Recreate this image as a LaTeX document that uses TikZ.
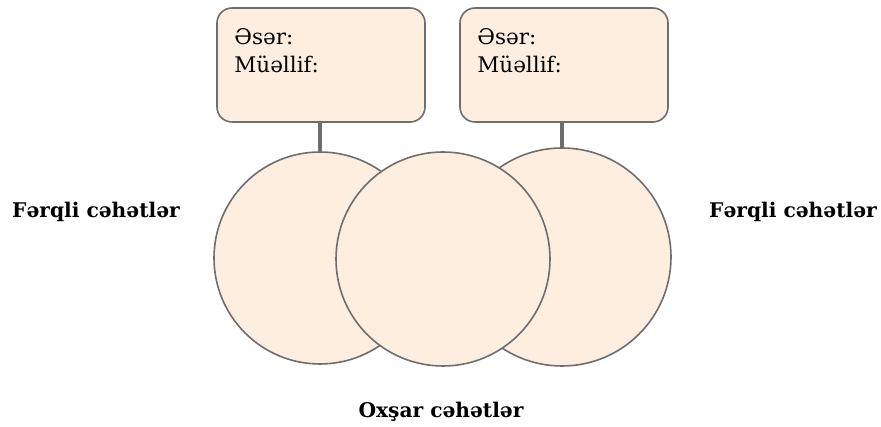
\documentclass[tikz,border=0pt]{standalone}
\usepackage{fontspec}
\setmainfont{DejaVu Serif}
\usetikzlibrary{positioning}
\definecolor{peach}{HTML}{FDEEE0}
\definecolor{edgegray}{HTML}{6E6E6E}
\tikzset{
    setbox/.style={draw=edgegray, line width=1.6pt, fill=peach, rounded corners=15pt,
        minimum width=208pt, minimum height=114pt},
    setcircle/.style={circle, draw=edgegray, line width=1.6pt, fill=peach},
    stem/.style={draw=edgegray, line width=4.5pt},
    boxtext/.style={align=left, font=\fontsize{21.5}{28}\selectfont, inner sep=0pt},
    sidelabel/.style={font=\fontsize{20.2}{22}\selectfont\bfseries, inner sep=0pt}
}
\begin{document}
\begin{tikzpicture}[x=1pt, y=-1pt]
    \useasboundingbox (0,0) rectangle (881,427);

    % info boxes
    \node[setbox] (boxL) at (321,65) {};
    \node[setbox] (boxR) at (564,65) {};
    \node[boxtext, anchor=north west] (textL) at ([xshift=18pt, yshift=-21pt]boxL.north west) {Əsər:\\Müəllif:};
    \node[boxtext, anchor=north west] (textR) at ([xshift=18pt, yshift=-21pt]boxR.north west) {Əsər:\\Müəllif:};

    % circles, middle one on top
    \node[setcircle, minimum size=212pt] (circL) at (320,258) {};
    \node[setcircle, minimum size=218pt] (circR) at (562,257) {};
    \node[setcircle, minimum size=214pt] (circM) at (443,259) {};

    % stems
    \draw[stem] (boxL.south -| circL.north) -- (circL.north);
    \draw[stem] (boxR.south -| circR.north) -- (circR.north);

    % labels
    \node[sidelabel, anchor=base] (diffL) at (96,218) {Fərqli cəhətlər};
    \node[sidelabel, anchor=base] (diffR) at (793,218) {Fərqli cəhətlər};
    \node[sidelabel, anchor=base] (same) at (441,418) {Oxşar cəhətlər};
\end{tikzpicture}
\end{document}
